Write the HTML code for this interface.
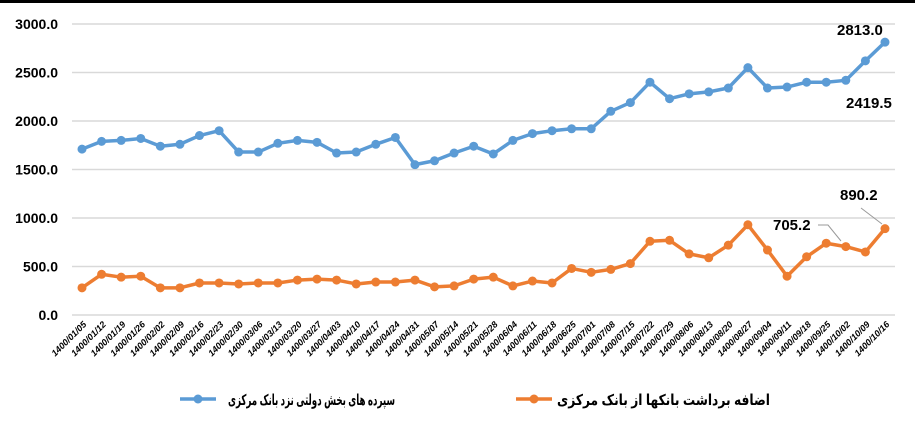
<!DOCTYPE html>
<html><head><meta charset="utf-8"><style>
html,body{margin:0;padding:0;background:#fff;}
svg{display:block;font-family:"Liberation Sans",sans-serif;}
</style></head><body>
<svg width="915" height="423" viewBox="0 0 915 423" xmlns="http://www.w3.org/2000/svg">
<rect x="0" y="0" width="915" height="3" fill="#000"/>
<g stroke="#d9d9d9" stroke-width="1.5">
<line x1="72" x2="895" y1="24" y2="24"/><line x1="72" x2="895" y1="72.5" y2="72.5"/>
<line x1="72" x2="895" y1="121" y2="121"/><line x1="72" x2="895" y1="169.5" y2="169.5"/>
<line x1="72" x2="895" y1="218" y2="218"/><line x1="72" x2="895" y1="266.5" y2="266.5"/>
<line x1="72" x2="895" y1="315" y2="315"/>
</g>
<g font-size="14" font-weight="bold" fill="#000" text-anchor="end">
<text x="58" y="29">3000.0</text><text x="58" y="77.5">2500.0</text>
<text x="58" y="126">2000.0</text><text x="58" y="174.5">1500.0</text>
<text x="58" y="223">1000.0</text><text x="58" y="271.5">500.0</text>
<text x="58" y="320">0.0</text>
</g>
<g id="xl" font-size="9" font-weight="bold" font-style="italic" fill="#000" text-anchor="end"></g>
<polyline id="b" fill="none" stroke="#5b9bd5" stroke-width="3.5" stroke-linejoin="round"/>
<polyline id="o" fill="none" stroke="#ed7d31" stroke-width="3.5" stroke-linejoin="round"/>
<g id="bm" fill="#5b9bd5"></g><g id="om" fill="#ed7d31"></g>
<g font-size="15" font-weight="bold" fill="#000">
<text x="837" y="35">2813.0</text>
<text x="846" y="108">2419.5</text>
<text x="840" y="200">890.2</text>
<text x="773" y="230">705.2</text>
</g>
<polyline points="818,225 828,225 841,241" fill="none" stroke="#999" stroke-width="1"/>
<polyline points="861,208 882,224" fill="none" stroke="#999" stroke-width="1"/>
<line x1="180" x2="216" y1="399" y2="399" stroke="#5b9bd5" stroke-width="3.5"/><circle cx="198" cy="399" r="4.5" fill="#5b9bd5"/>
<text x="395" y="405" font-size="15" font-weight="bold" direction="rtl" text-anchor="start" textLength="167" lengthAdjust="spacingAndGlyphs" font-family="'Liberation Sans','DejaVu Sans',sans-serif">سپرده های بخش دولتی نزد بانک مرکزی</text>
<line x1="516" x2="552" y1="399" y2="399" stroke="#ed7d31" stroke-width="3.5"/><circle cx="534" cy="399" r="4.5" fill="#ed7d31"/>
<text x="770" y="405" font-size="15" font-weight="bold" direction="rtl" text-anchor="start" textLength="213" lengthAdjust="spacingAndGlyphs" font-family="'Liberation Sans','DejaVu Sans',sans-serif">اضافه برداشت بانکها از بانک مرکزی</text>
<script>
var dates=["01/05","01/12","01/19","01/26","02/02","02/09","02/16","02/23","02/30","03/06","03/13","03/20","03/27","04/03","04/10","04/17","04/24","04/31","05/07","05/14","05/21","05/28","06/04","06/11","06/18","06/25","07/01","07/08","07/15","07/22","07/29","08/06","08/13","08/20","08/27","09/04","09/11","09/18","09/25","10/02","10/09","10/16"];
var B=[1710,1790,1800,1820,1740,1760,1850,1900,1680,1680,1770,1800,1780,1670,1680,1760,1830,1550,1590,1670,1740,1660,1800,1870,1900,1920,1920,2100,2190,2400,2230,2280,2300,2340,2550,2340,2350,2400,2400,2419.5,2620,2813];
var O=[280,420,390,400,280,280,330,330,320,330,330,360,370,360,320,340,340,360,290,300,370,390,300,350,330,480,440,470,530,760,770,630,590,720,930,670,400,600,740,705.2,650,890.2];
var NS="http://www.w3.org/2000/svg";
function X(i){return 82+i*19.585;}function Y(v){return 315-v*0.097;}
var pb=[],po=[];
for(var i=0;i<42;i++){
pb.push(X(i)+","+Y(B[i]));po.push(X(i)+","+Y(O[i]));
[["bm",B],["om",O]].forEach(function(a){var c=document.createElementNS(NS,"circle");c.setAttribute("cx",X(i));c.setAttribute("cy",Y(a[1][i]));c.setAttribute("r",4.5);document.getElementById(a[0]).appendChild(c);});
var t=document.createElementNS(NS,"text");var x=X(i)+5,y=325;t.setAttribute("x",x);t.setAttribute("y",y);t.setAttribute("transform","rotate(-45 "+x+" "+y+")");t.textContent="1400/"+dates[i];document.getElementById("xl").appendChild(t);}
document.getElementById("b").setAttribute("points",pb.join(" "));
document.getElementById("o").setAttribute("points",po.join(" "));
</script>
</svg>
</body></html>
